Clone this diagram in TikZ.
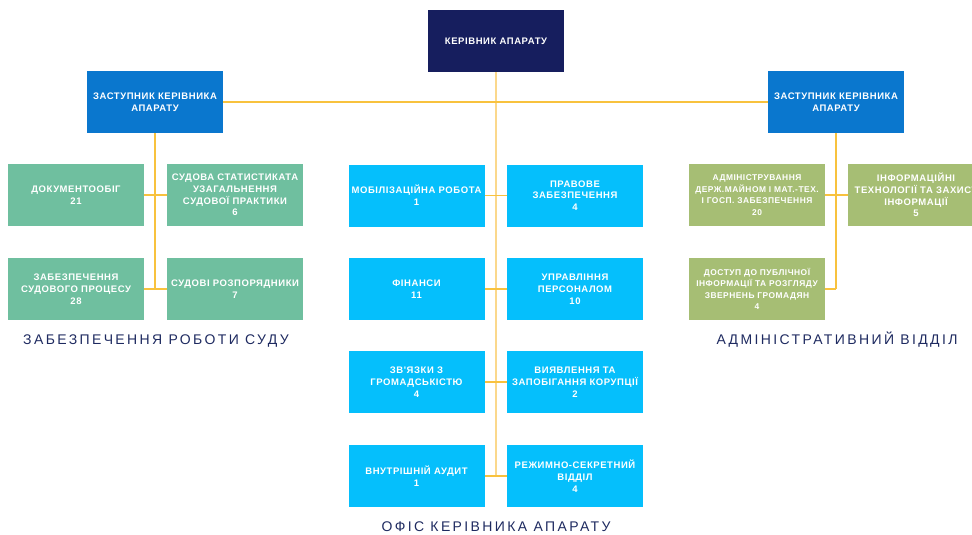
\documentclass[tikz,border=0pt]{standalone}
\usepackage{fontspec}
\newfontfamily\boxfont[LetterSpace=6]{Liberation Sans}
\newfontfamily\capfont[LetterSpace=17]{Liberation Sans}
\definecolor{navy}{HTML}{161E5E}
\definecolor{depblue}{HTML}{0A77CE}
\definecolor{leftgreen}{HTML}{6FBF9F}
\definecolor{midcyan}{HTML}{05BFFC}
\definecolor{olive}{HTML}{A6BE74}
\definecolor{lineyel}{HTML}{F8C23E}
\definecolor{lineyellight}{HTML}{FBD88C}
\definecolor{captxt}{HTML}{1E2A60}
\tikzset{
  unitbox/.style={rectangle, minimum width=136pt, minimum height=62pt, inner sep=0pt,
    text=white, align=center, font=\boxfont\bfseries\fontsize{9.5}{11.8}\selectfont},
  headbox/.style={unitbox, fill=navy},
  depbox/.style={unitbox, fill=depblue},
  lgbox/.style={unitbox, fill=leftgreen},
  cybox/.style={unitbox, fill=midcyan},
  olbox/.style={unitbox, fill=olive},
  smalltext/.style={font=\boxfont\bfseries\fontsize{8.4}{11.6}\selectfont},
  link/.style={draw=lineyel, line width=1.2pt},
  trunk/.style={draw=lineyellight, line width=2pt},
  grpcap/.style={text=captxt, font=\capfont\fontsize{14}{16}\selectfont, inner sep=0pt}
}
\begin{document}
\begin{tikzpicture}[x=1pt,y=-1pt]
\useasboundingbox (0,0) rectangle (972,535);
\clip (0,0) rectangle (972,535);
% nodes
\node[headbox] (head) at (496,41) {КЕРІВНИК АПАРАТУ};
\node[depbox] (ldep) at (155,102) {ЗАСТУПНИК КЕРІВНИКА\\АПАРАТУ};
\node[depbox] (rdep) at (836,102) {ЗАСТУПНИК КЕРІВНИКА\\АПАРАТУ};
% left group
\node[lgbox] (doc) at (76,195) {ДОКУМЕНТООБІГ\\21};
\node[lgbox] (stat) at (235,195) {СУДОВА СТАТИСТИКАТА\\УЗАГАЛЬНЕННЯ\\СУДОВОЇ ПРАКТИКИ\\6};
\node[lgbox] (zab) at (76,289) {ЗАБЕЗПЕЧЕННЯ\\СУДОВОГО ПРОЦЕСУ\\28};
\node[lgbox] (rozp) at (235,289) {СУДОВІ РОЗПОРЯДНИКИ\\7};
% middle group
\node[cybox] (mob) at (416.5,195.5) {МОБІЛІЗАЦІЙНА РОБОТА\\1};
\node[cybox] (prav) at (575,195.5) {ПРАВОВЕ\\ЗАБЕЗПЕЧЕННЯ\\4};
\node[cybox] (fin) at (416.5,289) {ФІНАНСИ\\11};
\node[cybox] (pers) at (575,289) {УПРАВЛІННЯ\\ПЕРСОНАЛОМ\\10};
\node[cybox] (zvz) at (416.5,382) {ЗВ'ЯЗКИ З\\ГРОМАДСЬКІСТЮ\\4};
\node[cybox] (kor) at (575,382) {ВИЯВЛЕННЯ ТА\\ЗАПОБІГАННЯ КОРУПЦІЇ\\2};
\node[cybox] (aud) at (416.5,476) {ВНУТРІШНІЙ АУДИТ\\1};
\node[cybox] (sekr) at (575,476) {РЕЖИМНО-СЕКРЕТНИЙ\\ВІДДІЛ\\4};
% right group
\node[olbox, smalltext] (adm) at (757,195) {АДМІНІСТРУВАННЯ\\ДЕРЖ.МАЙНОМ І МАТ.-ТЕХ.\\І ГОСП. ЗАБЕЗПЕЧЕННЯ\\20};
\node[olbox] (it) at (916,195) {ІНФОРМАЦІЙНІ\\ТЕХНОЛОГІЇ ТА ЗАХИСТ\\ІНФОРМАЦІЇ\\5};
\node[olbox, smalltext] (dost) at (757,289) {ДОСТУП ДО ПУБЛІЧНОЇ\\ІНФОРМАЦІЇ ТА РОЗГЛЯДУ\\ЗВЕРНЕНЬ ГРОМАДЯН\\4};
% captions
\node[grpcap] (capl) at (156,341) {ЗАБЕЗПЕЧЕННЯ РОБОТИ СУДУ};
\node[grpcap] (capm) at (496,527) {ОФІС КЕРІВНИКА АПАРАТУ};
\node[grpcap] (capr) at (837,340) {АДМІНІСТРАТИВНИЙ ВІДДІЛ};
% connector end points
\coordinate (trunkend) at (496,476);
\coordinate (lend) at (155,289);
\coordinate (rend) at (836,289);
% connectors
\draw[trunk] (head.south) -- (trunkend);
\draw[link] (ldep.east) -- (rdep.west);
\draw[link] (ldep.south) -- (lend);
\draw[link] (doc.east) -- (stat.west);
\draw[link] (zab.east) -- (rozp.west);
\draw[link] (mob.east) -- (prav.west);
\draw[link] (fin.east) -- (pers.west);
\draw[link] (zvz.east) -- (kor.west);
\draw[link] (aud.east) -- (sekr.west);
\draw[link] (rdep.south) -- (rend);
\draw[link] (adm.east) -- (it.west);
\draw[link] (dost.east) -- (rend);
\end{tikzpicture}
\end{document}
